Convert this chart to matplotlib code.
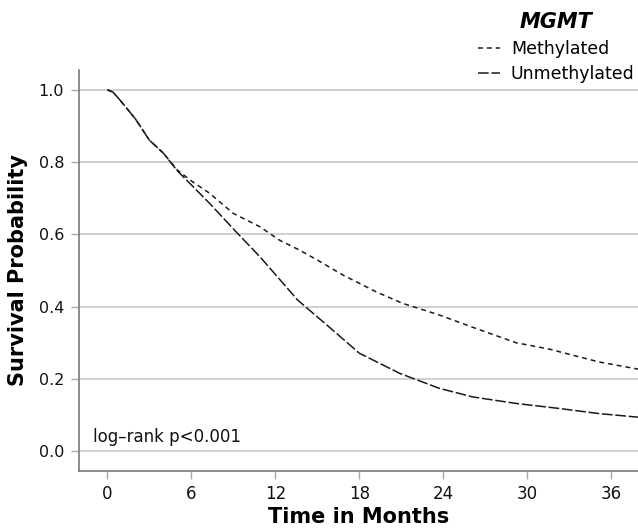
import matplotlib

matplotlib.use("Agg")
import matplotlib.pyplot as plt

# Kaplan-Meier curves (months, survival probability)
meth_t = [0, 0.4, 0.9, 2.0, 3.0, 4.0, 5.0, 6.0, 7.3, 9.0, 10.9, 12.3, 13.7,
          15.0, 16.8, 19.2, 21.1, 23.7, 26.3, 29.2, 31.6, 35.1, 37.9]
meth_s = [1.0, 0.994, 0.972, 0.92, 0.861, 0.825, 0.778, 0.748, 0.714, 0.658,
          0.621, 0.584, 0.557, 0.529, 0.488, 0.441, 0.409, 0.377, 0.340,
          0.300, 0.282, 0.247, 0.227]

unmeth_t = [0, 0.4, 0.9, 2.0, 3.0, 4.0, 5.0, 6.0, 7.3, 9.2, 10.9, 13.6, 16.1,
            18.0, 20.9, 23.7, 26.1, 29.2, 32.3, 35.1, 37.9]
unmeth_s = [1.0, 0.994, 0.972, 0.92, 0.861, 0.825, 0.776, 0.737, 0.686, 0.607,
            0.538, 0.418, 0.335, 0.271, 0.215, 0.174, 0.150, 0.132, 0.118,
            0.104, 0.094]

x_ticks = [0, 6, 12, 18, 24, 30, 36]
y_ticks = [0.0, 0.2, 0.4, 0.6, 0.8, 1.0]

plt.rcParams["font.family"] = "DejaVu Sans"

fig = plt.figure(figsize=(6.38, 5.32), dpi=100)
ax = fig.add_axes([79.3 / 638, 1 - 471 / 532, 1 - 79.3 / 638, (471 - 70) / 532])

ink = "#1a1a1a"
ax.plot(meth_t, meth_s, color=ink, lw=1.1, dashes=(3.2, 2.6), label="Methylated")
ax.plot(unmeth_t, unmeth_s, color=ink, lw=1.1, dashes=(7, 1.8), label="Unmethylated")

ax.set_xlim(-2, 37.9)
ax.set_ylim(-0.055, 1.055)
ax.set_xticks(x_ticks)
ax.set_yticks(y_ticks)
ax.set_yticklabels([f"{v:.1f}" for v in y_ticks])
ax.yaxis.grid(True, color="#c8c8c8", lw=1.2)
ax.set_axisbelow(True)
for s in ["top", "right"]:
    ax.spines[s].set_visible(False)
for s in ["left", "bottom"]:
    ax.spines[s].set_color("#7a7a7a")
    ax.spines[s].set_linewidth(1.2)
ax.tick_params(axis="both", colors="#aaaaaa", length=6, width=1,
               labelcolor="#111111")
ax.tick_params(axis="x", pad=4, labelsize=12)
ax.tick_params(axis="y", pad=5, labelsize=11.5)

ax.set_xlabel("Time in Months", fontsize=15, fontweight="bold")
ax.xaxis.set_label_coords(0.5, -0.09)
ax.set_ylabel("Survival Probability", fontsize=15, fontweight="bold")
ax.yaxis.set_label_coords(-0.092, 0.5)

ax.text(0.025, 0.085, "log\u2013rank p<0.001", transform=ax.transAxes,
        fontsize=12, color="#111111", va="center")

leg = ax.legend(loc="upper right", bbox_to_anchor=(0.994, 1.145), frameon=False,
                fontsize=12.5, handlelength=1.3, handletextpad=0.6,
                labelspacing=0.45, borderaxespad=0, borderpad=0)
leg.set_title("MGMT", prop={"weight": "bold", "style": "italic", "size": 15})
leg._legend_box.align = "center"

fig.savefig("out.png", dpi=100)
